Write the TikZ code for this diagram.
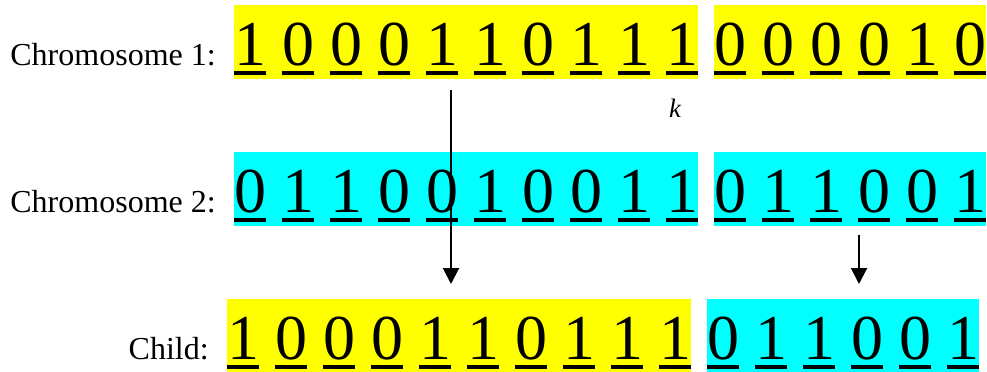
\documentclass[tikz,border=0pt]{standalone}
\usepackage{fontspec}
\setmainfont{Liberation Serif}
\usetikzlibrary{arrows.meta}
\definecolor{chyel}{RGB}{255,255,0}
\definecolor{chcyan}{RGB}{0,255,255}
\tikzset{
  bit/.style={anchor=base, inner sep=0pt, font=\fontsize{48}{48}\selectfont},
  lbl/.style={anchor=base east, inner sep=0pt, font=\fontsize{24}{24}\selectfont},
  klbl/.style={anchor=base, inner sep=0pt, font=\fontsize{20}{20}\selectfont\itshape},
  yelbox/.style={fill=chyel},
  cybox/.style={fill=chcyan},
  arr/.style={line width=1.5pt, -{Triangle[length=12pt,width=12pt]}}
}
\begin{document}
\begin{tikzpicture}[x=0.75pt,y=-0.75pt]
\useasboundingbox (0,0) rectangle (987,371);
% boxes
\fill[yelbox] (234,5) rectangle (698,79);
\fill[yelbox] (714,5) rectangle (986,79);
\fill[cybox] (234,152) rectangle (698,226);
\fill[cybox] (714,152) rectangle (986,226);
\fill[yelbox] (227,299) rectangle (691,373);
\fill[cybox] (707,299) rectangle (979,373);
% labels
\node[lbl] (l1) at (216,65) {Chromosome 1:};
\node[lbl] (l2) at (216,212) {Chromosome 2:};
\node[lbl] (l3) at (209,359) {Child:};
\node[klbl] (k) at (675,117) {k};
% row 1
\foreach \b [count=\i from 0] in {1,0,0,0,1,1,0,1,1,1} {
  \node[bit] (a\i) at ({250+48*\i},65) {\b};
  \fill ({234+48*\i},71) rectangle ++(32,4);
}
\foreach \b [count=\i from 0] in {0,0,0,0,1,0} {
  \node[bit] (b\i) at ({730+48*\i},65) {\b};
  \fill ({714+48*\i},71) rectangle ++(32,4);
}
% row 2
\foreach \b [count=\i from 0] in {0,1,1,0,0,1,0,0,1,1} {
  \node[bit] (c\i) at ({250+48*\i},212) {\b};
  \fill ({234+48*\i},218) rectangle ++(32,4);
}
\foreach \b [count=\i from 0] in {0,1,1,0,0,1} {
  \node[bit] (d\i) at ({730+48*\i},212) {\b};
  \fill ({714+48*\i},218) rectangle ++(32,4);
}
% row 3
\foreach \b [count=\i from 0] in {1,0,0,0,1,1,0,1,1,1} {
  \node[bit] (e\i) at ({243+48*\i},359) {\b};
  \fill ({227+48*\i},365) rectangle ++(32,4);
}
\foreach \b [count=\i from 0] in {0,1,1,0,0,1} {
  \node[bit] (f\i) at ({723+48*\i},359) {\b};
  \fill ({707+48*\i},365) rectangle ++(32,4);
}
% arrows
\coordinate (s1) at (451,90);
\coordinate (t1) at (451,284);
\coordinate (s2) at (859,235);
\coordinate (t2) at (859,284);
\draw[arr] (s1) -- (t1);
\draw[arr] (s2) -- (t2);
\end{tikzpicture}
\end{document}
